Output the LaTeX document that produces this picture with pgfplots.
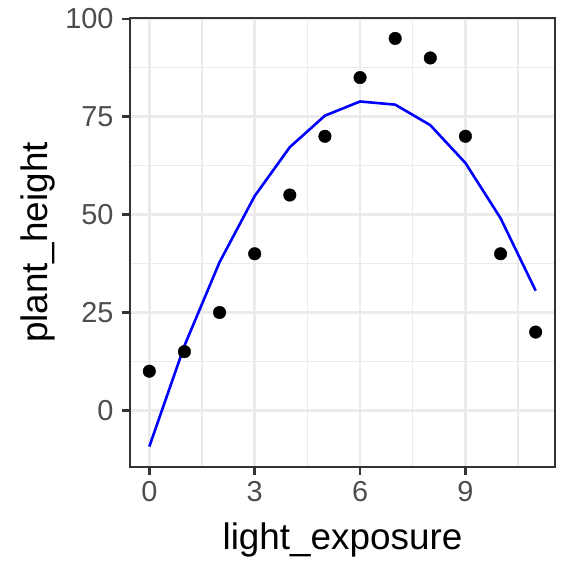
\documentclass[border=0pt]{standalone}
\usepackage{fontspec}
\setmainfont{Liberation Sans}
\usepackage{pgfplots}
\pgfplotsset{compat=1.18}
\usetikzlibrary{calc}
\definecolor{gridc}{HTML}{EBEBEB}
\definecolor{tickc}{HTML}{4D4D4D}
\definecolor{framec}{HTML}{333333}
\begin{document}
\begin{tikzpicture}
\begin{axis}[scale only axis, width=425bp, height=449bp,
  xmin=-0.55, xmax=11.55, ymin=-14.46, ymax=100.21,
  xtick={0,3,6,9}, ytick={0,25,50,75,100},
  minor xtick={1.5,4.5,7.5,10.5}, minor ytick={12.5,37.5,62.5,87.5},
  grid=both, major grid style={gridc, line width=2.8bp}, minor grid style={gridc, line width=1.4bp},
  axis line style={framec, line width=1.4bp},
  tick align=outside, major tick length=8bp, minor tick length=0pt,
  xtick pos=left, ytick pos=left,
  /pgf/number format/assume math mode=true,
  tick label style={font=\fontsize{29}{34}\selectfont, text=tickc},
  xticklabel style={yshift=-3bp}, yticklabel style={xshift=-5bp},
  label style={font=\fontsize{37}{44}\selectfont},
  xlabel={light\_exposure}, ylabel={plant\_height},
  xlabel style={at={(axis description cs:0.5,-0.1626)}, anchor=center},
  ylabel style={at={(axis description cs:-0.2165,0.5)}, anchor=center, rotate=0},
  clip=false]
\coordinate (bl) at (rel axis cs:0,0);
\coordinate (tr) at (rel axis cs:1,1);
\addplot[only marks, mark=*, mark size=6.3bp, black] coordinates {
(0,10) (1,15) (2,25) (3,40) (4,55) (5,70) (6,85) (7,95) (8,90) (9,70) (10,40) (11,20)};
\addplot[blue, line width=2.6bp, no marks] coordinates {
(0,-9.245) (1,16.514) (2,37.846) (3,54.749) (4,67.223) (5,75.270) (6,78.889) (7,78.080) (8,72.843) (9,63.178) (10,49.084) (11,30.563)};
% tick marks drawn by hand (pgfplots ticks vanish here with the grid on)
\pgfplotsinvokeforeach{0,3,6,9}{\draw[framec, line width=2.5bp] (axis cs:#1,-14.46) -- ([yshift=-8bp]axis cs:#1,-14.46);}
\pgfplotsinvokeforeach{0,25,50,75,100}{\draw[framec, line width=2.5bp] (axis cs:-0.55,#1) -- ([xshift=-8bp]axis cs:-0.55,#1);}
\end{axis}
\pgfresetboundingbox
\path ($(bl)+(-130bp,-109bp)$) rectangle ($(tr)+(21bp,18bp)$);
\end{tikzpicture}
\end{document}
